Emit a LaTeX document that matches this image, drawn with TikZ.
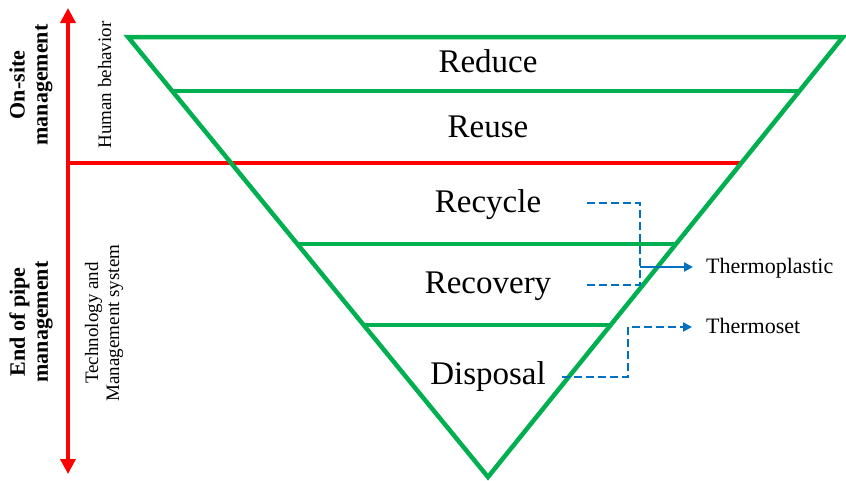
\documentclass[tikz,border=0pt]{standalone}
\usepackage{fontspec}
\setmainfont{Liberation Serif}
\usetikzlibrary{arrows.meta}
\definecolor{pgreen}{RGB}{0,176,80}
\definecolor{pred}{RGB}{255,0,0}
\definecolor{pblue}{RGB}{0,112,192}
\begin{document}
\begin{tikzpicture}[x=1pt,y=-1pt,
  greenline/.style={draw=pgreen,line width=4.5pt,line join=miter},
  redline/.style={draw=pred,line width=3.5pt},
  bluedash/.style={draw=pblue,line width=2.6pt,dash pattern=on 8pt off 4pt},
  bluearrow/.style={draw=pblue,line width=2.6pt,-{Triangle[length=9pt,width=9pt]}},
  mainlabel/.style={font=\fontsize{33}{36}\selectfont,inner sep=0pt},
  sidelabel/.style={font=\fontsize{22}{22}\selectfont,inner sep=0pt},
  sidebold/.style={font=\fontsize{22}{23}\selectfont\bfseries,align=center,rotate=90,inner sep=0pt},
  sidesmall/.style={font=\fontsize{19}{21}\selectfont,align=center,rotate=90,inner sep=0pt}]
\useasboundingbox (0,0) rectangle (846,480);
% coordinates
\coordinate (TL) at (128,37);
\coordinate (TR) at (843,37);
\coordinate (B) at (488,477);
\coordinate (L1) at (172.2,91);
\coordinate (R1) at (799.4,91);
\coordinate (L3) at (297.4,244);
\coordinate (R3) at (676,244);
\coordinate (L4) at (363.6,325);
\coordinate (R4) at (610.6,325);
\coordinate (A1) at (68,8);
\coordinate (A2) at (68,474);
\coordinate (H0) at (68,163);
\coordinate (H1) at (741.3,163);
% red axis
\draw[redline,{Triangle[length=15pt,width=15pt]}-{Triangle[length=15pt,width=15pt]}] (A1) -- (A2);
\draw[redline] (H0) -- (H1);
% pyramid
\draw[greenline] (TL) -- (TR) -- (B) -- cycle;
\draw[greenline] (L1) -- (R1);
\draw[greenline] (L3) -- (R3);
\draw[greenline] (L4) -- (R4);
% labels
\node[mainlabel,anchor=base] (reduce) at (488,72) {Reduce};
\node[mainlabel,anchor=base] (reuse) at (488,137) {Reuse};
\node[mainlabel,anchor=base] (recycle) at (488,212) {Recycle};
\node[mainlabel,anchor=base] (recovery) at (488,293) {Recovery};
\node[mainlabel,anchor=base] (disposal) at (488,384) {Disposal};
\node[sidelabel,anchor=base west] (tp) at (706,273) {Thermoplastic};
\node[sidelabel,anchor=base west] (ts) at (706,333) {Thermoset};
\node[sidebold] (onsite) at (31,85) {On-site\\management};
\node[sidebold] (eop) at (31,322) {End of pipe\\management};
\node[sidesmall] (hb) at (104.5,85) {Human behavior};
\node[sidesmall] (tech) at (104,323) {Technology and\\Management system};
% blue connectors
\coordinate (c1) at (587,203);
\coordinate (c2) at (587,285);
\coordinate (cb) at (640,285);
\coordinate (cj) at (640,267);
\coordinate (d1) at (562,377);
\coordinate (dk) at (628,327);
\draw[bluedash] (c1) -| (cb) -- (c2);
\draw[bluearrow,shorten >=13pt] (cj) -- (cj -| tp.west);
\draw[bluedash] (d1) -| (dk) -- ([xshift=-16pt]dk -| ts.west);
\draw[bluearrow,shorten >=14pt] ([xshift=-16pt]dk -| ts.west) -- (dk -| ts.west);
\end{tikzpicture}
\end{document}
